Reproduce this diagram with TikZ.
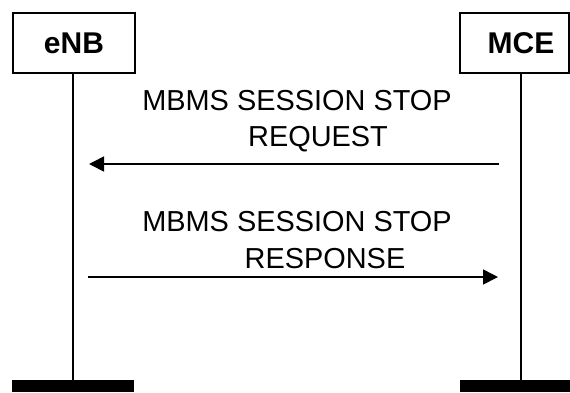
\documentclass[tikz,border=0pt]{standalone}
\usepackage{fontspec}
\setmainfont{Liberation Sans}
\usetikzlibrary{arrows.meta}
\begin{document}
\begin{tikzpicture}[x=1pt,y=-1pt,
  entity/.style={draw,line width=1.6pt,minimum height=60pt,inner sep=0pt},
  ename/.style={inner sep=0pt,font=\fontsize{30}{30}\selectfont\bfseries},
  bar/.style={fill=black,inner sep=0pt,minimum height=12pt},
  life/.style={line width=1.8pt},
  msg/.style={line width=1.6pt,-{Triangle[length=15pt,width=15pt]}},
  lbl/.style={inner sep=0pt,font=\fontsize{28.9}{30}\selectfont}]
\useasboundingbox (0,0) rectangle (570,392);
\clip (0,0) rectangle (570,392);
\node[entity,minimum width=122pt] (enb) at (74,43) {};
\node[ename] (enbt) at (74,43) {eNB};
\node[entity,minimum width=109pt] (mce) at (514.5,43) {};
\node[ename] (mcet) at (521,43) {MCE};
\node[bar,minimum width=122pt] (benb) at (73,386) {};
\node[bar,minimum width=122pt] (bmce) at (521,386) {};
\draw[life] (benb.north |- enb.south) -- (benb.north);
\draw[life] (bmce.north |- mce.south) -- (bmce.north);
\coordinate (a1s) at (499,164);
\coordinate (a1e) at (89,164);
\coordinate (a2s) at (88,277);
\coordinate (a2e) at (498,277);
\draw[msg] (a1s) -- (a1e);
\draw[msg] (a2s) -- (a2e);
\node[lbl] (t1) at (297,101) {MBMS SESSION STOP};
\node[lbl] (t2) at (318,139) {REQUEST};
\node[lbl] (t3) at (297,222) {MBMS SESSION STOP};
\node[lbl] (t4) at (325,259) {RESPONSE};
\end{tikzpicture}
\end{document}
